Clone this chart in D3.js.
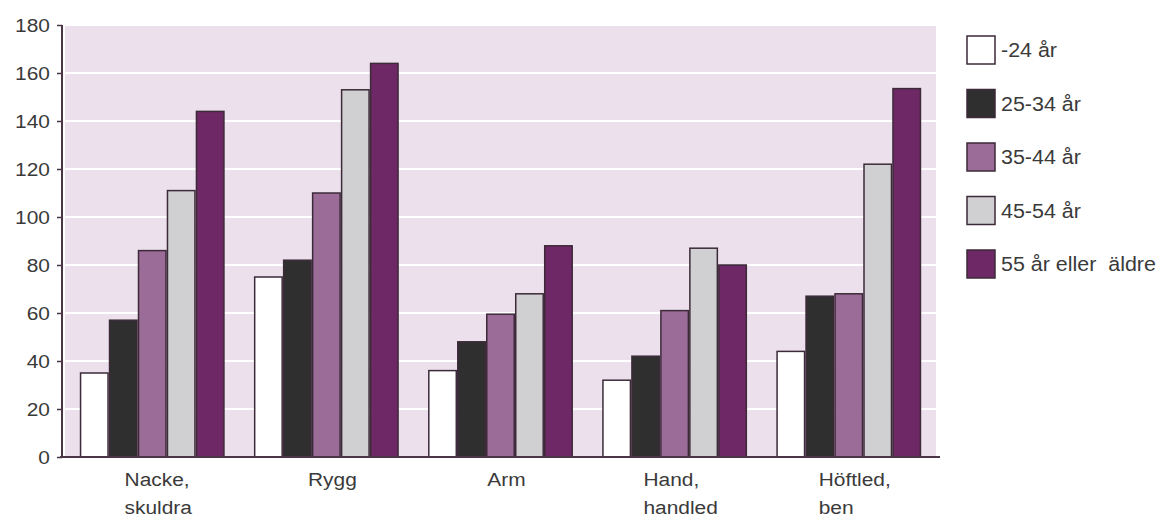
<!DOCTYPE html>
<html>
<head>
<meta charset="utf-8">
<script src="https://cdn.jsdelivr.net/npm/d3@7"></script>
<style>
  body { margin: 0; background: #ffffff; }
  text { font-family: "Liberation Sans", Arial, sans-serif; fill: #3a3a3a; }
</style>
</head>
<body>
<div id="chart"></div>
<script>
// categories and series
var categories = [["Nacke,", "skuldra"], ["Rygg"], ["Arm"], ["Hand,", "handled"], ["Höftled,", "ben"]];
var series = ["-24 år", "25-34 år", "35-44 år", "45-54 år", "55 år eller  äldre"];
var values = [
	[35, 57, 86, 111, 144],    // Nacke, skuldra
	[75, 82, 110, 153, 164],   // Rygg
	[36, 48, 59.5, 68, 88],    // Arm
	[32, 42, 61, 87, 80],      // Hand, handled
	[44, 67, 68, 122, 153.5]   // Höftled, ben
];
var yTicks = [0, 20, 40, 60, 80, 100, 120, 140, 160, 180];
var colors = ["#ffffff", "#302f30", "#9c6c99", "#d0cfd2", "#6f2866"];

var W = 1158, H = 517;
var plot = {left: 65, right: 936, top: 26, bottom: 457};
var stretch = 1.1; // scanned text is a little wider than Arial

var svg = d3.select("#chart").append("svg")
	.attr("width", W)
	.attr("height", H);

var x0 = d3.scaleBand()
	.domain(d3.range(categories.length))
	.range([plot.left, plot.right])
	.paddingInner(0.168)
	.paddingOuter(0.085);

var x1 = d3.scaleBand()
	.domain(d3.range(series.length))
	.range([0, x0.bandwidth()]);

var y = d3.scaleLinear()
	.domain([0, 180])
	.range([457, 25]);

// plot background
svg.append("rect")
	.attr("x", plot.left)
	.attr("y", plot.top)
	.attr("width", plot.right - plot.left)
	.attr("height", plot.bottom - plot.top)
	.style("fill", "#ede0ed");

// white grid lines
svg.append("g").selectAll("line")
	.data(yTicks.filter(function(t){ return t > 0 && t < 180; }))
	.enter().append("line")
	.attr("x1", plot.left)
	.attr("x2", plot.right)
	.attr("y1", function(d){ return y(d); })
	.attr("y2", function(d){ return y(d); })
	.style("stroke", "#ffffff")
	.style("stroke-width", 2);

// bars
var groups = svg.append("g").selectAll("g")
	.data(values)
	.enter().append("g")
	.attr("transform", function(d, i){ return "translate(" + x0(i) + ",0)"; });

groups.selectAll("rect")
	.data(function(d){ return d; })
	.enter().append("rect")
	.attr("x", function(d, j){ return x1(j) + 0.75; })
	.attr("y", function(d){ return y(d); })
	.attr("width", x1.bandwidth() - 1.5)
	.attr("height", function(d){ return y(0) - y(d); })
	.style("fill", function(d, j){ return colors[j]; })
	.style("stroke", "#3c2a39")
	.style("stroke-width", 1.5);

// y axis
var yAxis = d3.axisLeft(y).tickValues(yTicks).tickSize(5).tickPadding(7);
var gy = svg.append("g")
	.attr("transform", "translate(62,0)")
	.call(yAxis);
gy.select(".domain").remove();
gy.append("line")
	.attr("x1", 0).attr("x2", 0)
	.attr("y1", y(180)).attr("y2", y(0))
	.style("stroke", "#4a3646").style("stroke-width", 2);
gy.selectAll(".tick line").style("stroke", "#4a3646").style("stroke-width", 1.5);
gy.selectAll(".tick text")
	.style("font-size", "19px")
	.style("fill", "#3a3a3a")
	.attr("font-family", null)
	.attr("dy", "0.36em")
	.attr("transform", function(){
		var xx = +d3.select(this).attr("x");
		return "translate(" + xx + ",0) scale(" + stretch + ",1)";
	})
	.attr("x", 0);

// x axis base line
svg.append("line")
	.attr("x1", 60).attr("x2", 940)
	.attr("y1", y(0)).attr("y2", y(0))
	.style("stroke", "#4a3646").style("stroke-width", 2);

// category labels
var labels = svg.append("g").selectAll("g")
	.data(categories)
	.enter().append("g");

labels.each(function(lines, i){
	var g = d3.select(this);
	var t = g.append("text")
		.style("font-size", "19px");
	lines.forEach(function(line, k){
		t.append("tspan")
			.attr("x", 0)
			.attr("y", 486 + k * 28)
			.text(line);
	});
	var maxW = d3.max(t.selectAll("tspan").nodes(), function(n){ return n.getComputedTextLength(); }) * stretch;
	var cx = x0(i) + x0.bandwidth() / 2 + 6;
	t.attr("transform", "translate(" + (cx - maxW / 2) + ",0) scale(" + stretch + ",1)");
});

// legend
var legend = svg.append("g").selectAll("g")
	.data(series)
	.enter().append("g")
	.attr("transform", function(d, i){ return "translate(967," + (36 + i * 53.5) + ")"; });

legend.append("rect")
	.attr("width", 28)
	.attr("height", 28)
	.style("fill", function(d, i){ return colors[i]; })
	.style("stroke", "#3c2a39")
	.style("stroke-width", 1.5);

legend.append("text")
	.attr("transform", "translate(34,21) scale(" + stretch + ",1)")
	.style("font-size", "19.5px")
	.style("white-space", "pre")
	.text(function(d){ return d; });
</script>
</body>
</html>
